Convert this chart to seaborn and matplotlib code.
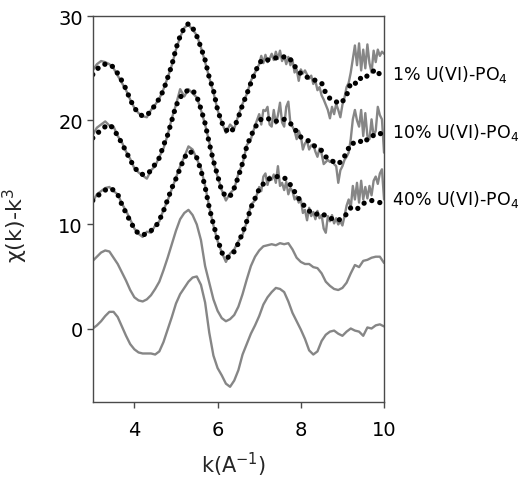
import numpy as np
import pandas as pd
import matplotlib
matplotlib.use("Agg")
import matplotlib.pyplot as plt
import matplotlib.transforms as mtransforms
import seaborn as sns

# ---------------- data ----------------
# k grids (A^-1)
k_lo = np.round(np.arange(3.0, 6.95, 0.1), 2)        # 3.0 .. 6.9
k_hi = np.round(np.arange(7.0, 10.001, 0.05), 2)     # 7.0 .. 10.0
k_data = np.concatenate([k_lo, k_hi])
k_fit = np.round(np.arange(3.0, 10.001, 0.1), 2)     # 3.0 .. 10.0

# measured spectra (gray) for the three samples
data_1pct = [24.8, 25.4, 25.7, 25.6, 25.4, 25.0, 24.3, 23.6, 22.9, 22.0,
             21.2, 20.7, 20.4, 20.3, 21.0, 21.5, 22.1, 23.0, 24.1, 25.3,
             26.8, 28.0, 28.9, 29.2, 28.7, 28.2, 27.0, 25.6, 24.1, 22.7,
             21.0, 19.8, 18.8, 19.6, 19.2, 20.5, 21.6, 22.5, 23.8, 24.6,
             25.4, 26.2, 25.5, 26.3, 25.6, 25.9, 26.4, 25.8, 26.6, 25.9,
             26.7, 25.7, 26.2, 25.4, 26.1, 25.3, 25.8, 24.6, 24.9, 23.8,
             24.9, 24.5, 24.8, 24.4, 24.0, 24.3, 23.5, 23.8, 22.9, 23.2,
             22.4, 22.0, 21.5, 21.0, 20.2, 21.3, 20.6, 21.6, 21.0, 20.3,
             21.5, 22.2, 23.2, 23.6, 24.6, 25.9, 27.2, 25.3, 27.4, 24.8,
             26.8, 25.0, 27.3, 25.5, 24.6, 26.7, 25.6, 26.8, 26.2, 26.6,
             26.4]
data_10pct = [18.6, 19.3, 19.6, 19.9, 19.5, 19.4, 18.5, 17.9, 17.0, 16.3,
              15.4, 15.0, 14.7, 14.4, 15.2, 15.6, 16.5, 17.3, 18.6, 20.2,
              21.5, 23.0, 22.3, 23.0, 22.6, 22.2, 21.0, 19.6, 17.9, 16.0,
              14.6, 13.3, 12.3, 13.0, 13.4, 14.9, 15.8, 17.6, 18.2, 19.5,
              20.6, 19.6, 21.0, 20.9, 21.3, 19.6, 19.4, 21.0, 19.7, 20.5,
              21.7, 19.8, 19.4, 21.3, 21.8, 19.7, 19.4, 19.0, 18.2, 19.0,
              18.5, 17.2, 17.8, 18.0, 17.2, 17.6, 17.7, 17.0, 16.5, 17.3,
              16.8, 15.8, 16.0, 16.2, 16.0, 16.2, 15.8, 15.6, 14.0, 15.2,
              15.6, 16.2, 16.5, 16.9, 18.2, 20.1, 21.0, 20.0, 19.4, 21.0,
              18.5, 20.7, 18.5, 18.2, 20.1, 18.5, 19.0, 21.3, 20.5, 20.1,
              16.9]
data_40pct = [12.2, 12.9, 13.2, 13.5, 13.6, 13.2, 12.9, 12.0, 11.3, 10.5,
              9.6, 9.1, 8.8, 9.3, 9.2, 9.9, 10.3, 11.4, 12.3, 13.4,
              14.5, 15.6, 16.5, 17.5, 17.2, 16.3, 15.4, 13.7, 11.7, 9.9,
              8.4, 7.3, 6.4, 7.2, 7.6, 8.4, 9.0, 10.2, 11.9, 12.3,
              13.6, 13.2, 14.6, 14.9, 13.8, 14.6, 14.3, 14.8, 14.0, 15.6,
              13.7, 14.0, 13.3, 14.1, 12.9, 13.5, 13.2, 12.4, 12.7, 12.1,
              12.4, 11.1, 11.4, 10.4, 11.6, 10.8, 11.2, 10.5, 11.3, 10.6,
              10.9, 9.6, 9.2, 10.8, 10.3, 10.9, 10.1, 10.6, 10.0, 10.3,
              9.9, 10.8, 11.8, 12.4, 11.6, 13.7, 12.4, 14.0, 12.1, 14.2,
              12.4, 13.6, 12.5, 13.7, 12.8, 14.2, 14.6, 13.9, 14.9, 15.3,
              12.4]

# fits (black dotted)
fit_1pct = [24.4, 24.9, 25.3, 25.4, 25.4, 25.1, 24.5, 23.8, 23.0, 22.0,
            21.2, 20.7, 20.4, 20.5, 20.9, 21.5, 22.1, 22.9, 24.1, 25.3,
            26.9, 28.1, 28.9, 29.3, 28.9, 28.1, 27.0, 25.8, 24.1, 22.9,
            21.0, 19.8, 19.1, 18.8, 19.3, 20.3, 21.5, 22.5, 23.6, 24.6,
            25.5, 25.9, 25.8, 25.9, 26.0, 26.1, 26.1, 26.1, 25.6, 24.9,
            24.5, 24.2, 24.1, 23.9, 23.8, 23.6, 22.6, 22.1, 22.0, 21.6,
            21.8, 22.4, 23.6, 23.5, 24.1, 23.9, 24.3, 24.6, 24.9, 24.4,
            24.4]
fit_10pct = [18.3, 18.7, 19.1, 19.4, 19.6, 19.2, 18.5, 17.8, 17.0, 16.2,
             15.5, 15.0, 14.8, 14.8, 15.2, 15.8, 16.4, 17.6, 18.6, 20.0,
             21.4, 22.2, 22.7, 22.9, 22.9, 22.3, 21.1, 19.7, 17.8, 16.1,
             14.7, 13.2, 12.7, 12.7, 13.5, 14.6, 15.9, 17.5, 18.5, 19.3,
             20.0, 20.2, 20.2, 20.0, 19.9, 20.1, 20.1, 19.9, 19.5, 18.9,
             18.4, 18.2, 18.0, 17.6, 17.4, 17.1, 16.5, 16.2, 16.0, 15.8,
             16.2, 16.9, 17.8, 17.8, 17.8, 18.3, 18.1, 18.5, 18.6, 18.8,
             18.3]
fit_40pct = [12.3, 12.7, 13.0, 13.3, 13.5, 13.3, 12.9, 11.9, 11.1, 10.3,
             9.6, 9.1, 9.0, 9.1, 9.4, 9.7, 10.4, 11.3, 12.4, 13.5,
             14.4, 15.4, 16.4, 17.0, 16.9, 16.4, 15.2, 13.6, 11.6, 10.0,
             8.6, 7.3, 6.8, 6.9, 7.4, 8.2, 9.2, 10.3, 11.6, 12.5,
             13.4, 13.9, 14.3, 14.5, 14.6, 14.6, 14.5, 14.1, 13.5, 12.8,
             12.2, 11.7, 11.3, 11.0, 11.0, 11.1, 10.8, 10.6, 10.5, 10.4,
             10.6, 11.0, 11.6, 11.4, 11.6, 12.0, 12.2, 12.3, 12.2, 12.1,
             12.4]

# two reference spectra (gray, no fit)
ref_upper = [6.5, 6.9, 7.3, 7.5, 7.4, 6.8, 6.2, 5.4, 4.6, 3.7,
             3.0, 2.7, 2.6, 2.8, 3.2, 3.8, 4.5, 5.6, 6.8, 8.1,
             9.4, 10.5, 11.1, 11.4, 10.9, 10.0, 8.5, 6.0, 4.4, 2.8,
             1.7, 1.0, 0.7, 0.9, 1.3, 2.1, 3.3, 4.7, 6.0, 6.9,
             7.5, 7.9, 8.0, 8.1, 8.0, 8.2, 8.1, 8.2, 7.6, 6.8,
             6.4, 6.2, 6.2, 5.9, 5.8, 5.3, 4.5, 4.1, 3.8, 3.7,
             3.9, 4.4, 5.3, 6.1, 5.9, 6.5, 6.6, 6.8, 6.9, 6.9,
             6.3]
ref_lower = [0.0, 0.3, 0.7, 1.2, 1.6, 1.6, 1.1, 0.2, -0.7, -1.5,
             -2.0, -2.3, -2.4, -2.4, -2.4, -2.5, -2.2, -1.3, -0.1, 1.1,
             2.4, 3.3, 3.9, 4.5, 4.9, 5.0, 4.2, 2.5, -0.4, -2.6,
             -3.8, -4.5, -5.3, -5.6, -5.0, -4.0, -2.5, -1.5, -0.5, 0.3,
             1.2, 2.3, 3.0, 3.5, 3.9, 3.8, 3.5, 2.6, 1.5, 0.7,
             -0.1, -1.0, -2.1, -2.5, -2.2, -1.2, -0.6, -0.3, -0.2, -0.5,
             -0.7, -0.3, 0.0, -0.2, -0.3, -0.7, 0.1, 0.0, 0.3, 0.4,
             0.2]

sample_labels = ["1% U(VI)-PO$_4$", "10% U(VI)-PO$_4$", "40% U(VI)-PO$_4$"]
label_y = [24.5, 18.9, 12.5]
x_ticks = [4, 6, 8, 10]
y_ticks = [0, 10, 20, 30]

# ---------------- style ----------------
sns.set_style("ticks")
plt.rcParams["font.family"] = ["DejaVu Sans"]
plt.rcParams["mathtext.fontset"] = "dejavusans"

GRAY = "#868686"
SPINE = "#4a4a4a"

fig = plt.figure(figsize=(5.30, 4.81), dpi=100)
ax = fig.add_axes([0.175, 0.162, 0.5496, 0.802])

gray_series = [(k_data, data_1pct), (k_data, data_10pct), (k_data, data_40pct),
               (k_fit, ref_upper), (k_fit, ref_lower)]
for kx, yy in gray_series:
    sns.lineplot(x=kx, y=yy, ax=ax, color=GRAY, linewidth=1.7,
                 errorbar=None, sort=False)

for yy in [fit_1pct, fit_10pct, fit_40pct]:
    sns.lineplot(x=k_fit, y=yy, ax=ax, color="black", linewidth=3.8,
                 linestyle=(0, (0.01, 1.55)), dash_capstyle="round",
                 errorbar=None, sort=False)

ax.set_xlim(3, 10)
ax.set_ylim(-7.07, 30)
ax.set_xticks(x_ticks)
ax.set_yticks(y_ticks)

for side in ["left", "bottom", "top", "right"]:
    ax.spines[side].set_visible(True)
    ax.spines[side].set_color(SPINE)
    ax.spines[side].set_linewidth(1.0)

ax.tick_params(axis="both", which="both", direction="out", length=4.2,
               width=1.0, color=SPINE, labelsize=14, labelcolor="black",
               top=False, right=False)
ax.tick_params(axis="x", pad=9)
ax.tick_params(axis="y", pad=3)

ax.set_xlabel("k(A$^{-1}$)", fontsize=15)
ax.set_ylabel("\u03c7(k)-k$^{3}$", fontsize=16)
ax.xaxis.set_label_coords(0.482, -0.124)
ax.yaxis.set_label_coords(-0.215, 0.459)

trans = mtransforms.blended_transform_factory(ax.transAxes, ax.transData)
for lab, yv in zip(sample_labels, label_y):
    ax.text(1.028, yv, lab, transform=trans, ha="left", va="center",
            fontsize=12.5, color="black", clip_on=False)

fig.savefig("out.png", dpi=100)
